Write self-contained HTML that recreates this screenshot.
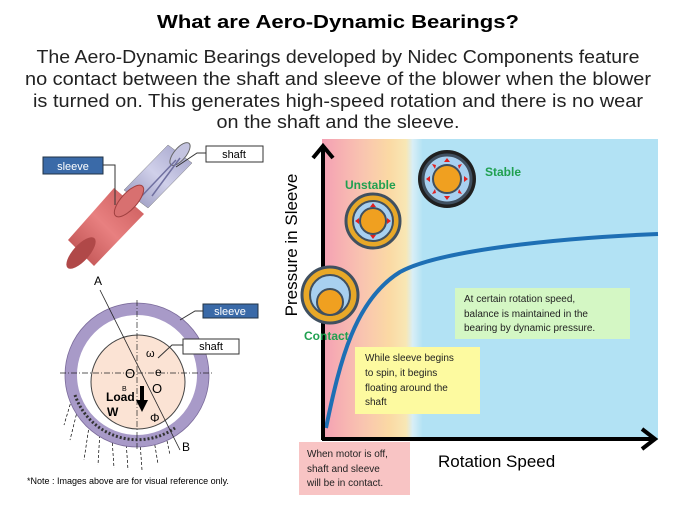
<!DOCTYPE html><html><head><style>body{margin:0;background:#fff}svg{display:block}text{font-family:"Liberation Sans",sans-serif}</style></head><body>
<svg width="675" height="506" viewBox="0 0 675 506" xmlns="http://www.w3.org/2000/svg">
<defs>
<linearGradient id="bg" x1="0" x2="1" y1="0" y2="0">
<stop offset="0" stop-color="#f4a0b4"/><stop offset="0.12" stop-color="#f9c4b0"/><stop offset="0.2" stop-color="#fbd9a4"/><stop offset="0.25" stop-color="#f8e7b4"/><stop offset="0.27" stop-color="#d8eef6"/><stop offset="0.3" stop-color="#b2e2f4"/><stop offset="1" stop-color="#b2e2f4"/></linearGradient>
<linearGradient id="red" x1="0" x2="1" y1="1" y2="0"><stop offset="0" stop-color="#b84a4a"/><stop offset="0.5" stop-color="#e88080"/><stop offset="1" stop-color="#c85858"/></linearGradient>
<linearGradient id="sh" x1="0" x2="1" y1="1" y2="0"><stop offset="0" stop-color="#9090b8"/><stop offset="0.5" stop-color="#d0d0ea"/><stop offset="1" stop-color="#a0a0c8"/></linearGradient>
<marker id="ar" markerUnits="userSpaceOnUse" markerWidth="12" markerHeight="12" refX="2" refY="6" orient="auto"><path d="M0,0L12,6L0,12z" fill="#000"/></marker>
</defs>
<text x="338" y="28" text-anchor="middle" font-weight="bold" font-size="18" textLength="362" lengthAdjust="spacingAndGlyphs">What are Aero-Dynamic Bearings?</text>
<g font-size="18" text-anchor="middle" fill="#222">
<text x="338" y="63" textLength="603" lengthAdjust="spacingAndGlyphs">The Aero-Dynamic Bearings developed by Nidec Components feature</text>
<text x="338" y="85" textLength="626" lengthAdjust="spacingAndGlyphs">no contact between the shaft and sleeve of the blower when the blower</text>
<text x="338" y="107" textLength="610" lengthAdjust="spacingAndGlyphs">is turned on. This generates high-speed rotation and there is no wear</text>
<text x="338" y="128" textLength="243" lengthAdjust="spacingAndGlyphs">on the shaft and the sleeve.</text>
</g>
<polygon points="124,190 168,145 192,163 148,208" fill="url(#sh)" stroke="#777" stroke-width="0.5"/>
<ellipse cx="180" cy="154" rx="14" ry="6" transform="rotate(-50 180 154)" fill="#c4c4e0" stroke="#666"/>
<path d="M138,200 L176,160 M152,196 L180,158" stroke="#7070a0" stroke-width="1.5"/>
<polygon points="68,240 114,188 144,214 94,266" fill="url(#red)"/>
<ellipse cx="81" cy="253" rx="20" ry="8" transform="rotate(-48 81 253)" fill="#b04848"/>
<ellipse cx="129" cy="201" rx="20" ry="8" transform="rotate(-48 129 201)" fill="#d87070" stroke="#a04040"/>
<rect x="43" y="157" width="60" height="17" fill="#3a6aa8" stroke="#234"/>
<text x="73" y="170" font-size="11" fill="#fff" text-anchor="middle">sleeve</text>
<path d="M103,165 L115,165 L115,205" stroke="#333" fill="none"/>
<rect x="206" y="146" width="57" height="16" fill="#fff" stroke="#333"/>
<text x="234" y="158" font-size="11" text-anchor="middle">shaft</text>
<path d="M206,153 L197,153 L176,167" stroke="#333" fill="none"/>
<g stroke="#000" stroke-width="0.7" stroke-dasharray="3,2" fill="none">
<path d="M80,400 L70,440 M90,420 L84,460 M100,430 L98,465 M112,438 L114,468 M126,440 L128,470 M140,442 L142,470 M154,440 L158,464 M166,436 L170,455 M76,385 L64,425"/>
</g>
<circle cx="137" cy="375" r="66" fill="#fff" stroke="#a89ac8" stroke-width="12"/>
<circle cx="137" cy="375" r="72" fill="none" stroke="#7a6a9a" stroke-width="0.8"/>
<path d="M75,395 A66,66 0 0 0 175,428" fill="none" stroke="#333" stroke-width="3" stroke-dasharray="2,2"/>
<circle cx="138" cy="382" r="47" fill="#fbe3d4" stroke="#444" stroke-width="1"/>
<path d="M60,373 L212,373 M137,300 L137,450" stroke="#222" stroke-width="0.7" stroke-dasharray="6,2,1,2"/>
<path d="M100,290 L180,450" stroke="#222" stroke-width="0.8"/>
<path d="M142,386 L142,402" stroke="#000" stroke-width="4" marker-end="url(#ar)"/>
<text x="94" y="285" font-size="12">A</text><text x="182" y="451" font-size="12">B</text>
<text x="125" y="378" font-size="13">O</text><text x="152" y="393" font-size="13">O</text>
<text x="155" y="376" font-size="12">e</text><text x="146" y="357" font-size="11">ω</text>
<text x="106" y="401" font-size="12" font-weight="bold">Load</text><text x="107" y="416" font-size="12" font-weight="bold">W</text>
<text x="122" y="391" font-size="7">B</text><text x="150" y="422" font-size="12">Φ</text>
<rect x="203" y="304" width="55" height="14" fill="#3a6aa8" stroke="#234"/>
<text x="230" y="315" font-size="11" fill="#fff" text-anchor="middle">sleeve</text>
<path d="M203,311 L195,311 L180,320" stroke="#333" fill="none"/>
<rect x="183" y="339" width="56" height="15" fill="#fff" stroke="#333"/>
<text x="211" y="350" font-size="11" text-anchor="middle">shaft</text>
<path d="M183,345 L172,345 L158,358" stroke="#333" fill="none"/>
<text x="27" y="484" font-size="9">*Note : Images above are for visual reference only.</text>
<rect x="322" y="139" width="336" height="301" fill="url(#bg)"/>
<path d="M326,428 C340,360 355,300 400,272 C440,250 560,238 658,234" stroke="#1e6fb4" stroke-width="4" fill="none"/>
<path d="M323,440 L323,146 M313,158 L323,146 L333,158" stroke="#000" stroke-width="4" fill="none"/>
<path d="M322,439 L654,439 M642,429 L655,439 L642,449" stroke="#000" stroke-width="4" fill="none"/>
<text transform="translate(297,245) rotate(-90)" font-size="17" text-anchor="middle">Pressure  in Sleeve</text>
<text x="438" y="467" font-size="17">Rotation Speed</text>
<g>
<circle cx="330" cy="295" r="28" fill="#e8a828" stroke="#405060" stroke-width="3"/>
<circle cx="330" cy="295" r="20" fill="#a8d0f0" stroke="#405060" stroke-width="2"/>
<circle cx="330" cy="302" r="13" fill="#f0a020" stroke="#405060" stroke-width="2"/>
<circle cx="373" cy="221" r="27" fill="#e8a828" stroke="#405060" stroke-width="3"/>
<circle cx="373" cy="221" r="20" fill="#a8d0f0" stroke="#405060" stroke-width="2"/>
<circle cx="373" cy="221" r="13" fill="#f0a020" stroke="#405060" stroke-width="2"/>
<circle cx="447" cy="179" r="29" fill="#202020"/>
<circle cx="447" cy="179" r="24" fill="#a8d0f0" stroke="#405060" stroke-width="3"/>
<circle cx="447" cy="179" r="14" fill="#f0a020" stroke="#405060" stroke-width="2"/>
<g fill="#e02020"><path d="M447,158l-3,4h6z M447,200l-3,-4h6z M426,179l4,-3v6z M468,179l-4,-3v6z M432,164l4,1-1,4z M462,194l-4,-1 1,-4z M462,164l-4,1 1,4z M432,194l4,-1-1,-4z"/>
<path d="M373,203l-3,4h6z M373,239l-3,-4h6z M355,221l4,-3v6z M391,221l-4,-3v6z"/></g>
</g>
<text x="345" y="189" font-size="12" font-weight="bold" fill="#20a050">Unstable</text>
<text x="485" y="176" font-size="12" font-weight="bold" fill="#20a050">Stable</text>
<text x="304" y="340" font-size="12" font-weight="bold" fill="#20a050">Contact</text>
<rect x="455" y="288" width="175" height="51" fill="#d4f7c4"/>
<g font-size="10" fill="#222">
<text x="464" y="302">At certain rotation speed,</text><text x="464" y="317">balance is maintained in the</text><text x="464" y="331">bearing by dynamic pressure.</text></g>
<rect x="355" y="347" width="125" height="67" fill="#fdfaa0"/>
<g font-size="10" fill="#222">
<text x="365" y="361">While sleeve begins</text><text x="365" y="376">to spin, it begins</text><text x="365" y="391">floating around the</text><text x="365" y="405">shaft</text></g>
<rect x="299" y="442" width="111" height="53" fill="#f8c4c4"/>
<g font-size="10" fill="#222">
<text x="307" y="457">When motor is off,</text><text x="307" y="472">shaft and sleeve</text><text x="307" y="486">will be in contact.</text></g>
</svg></body></html>
